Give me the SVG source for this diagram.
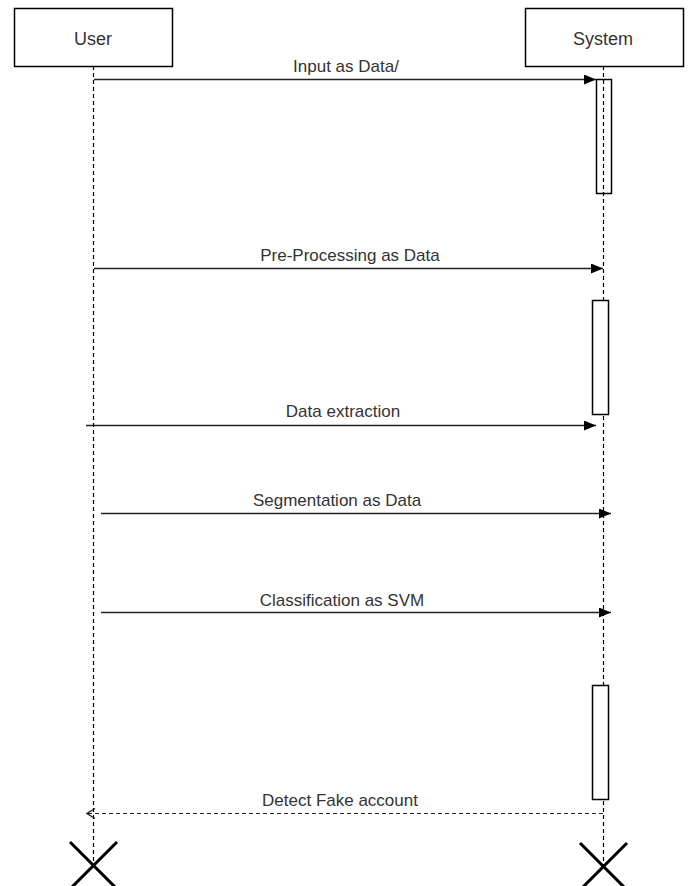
<svg xmlns="http://www.w3.org/2000/svg" width="690" height="886" viewBox="0 0 690 886">
  <style>
    .box { fill: #ffffff; stroke: #000000; stroke-width: 1.5; }
    .act { fill: #ffffff; stroke: #000000; stroke-width: 1.5; }
    .life { stroke: #000000; stroke-width: 1.2; stroke-dasharray: 4 3; fill: none; }
    .msg { stroke: #222222; stroke-width: 1.5; fill: none; }
    .ret { stroke: #222222; stroke-width: 1.2; stroke-dasharray: 4 3; fill: none; }
    .kill { stroke: #000000; stroke-width: 3; fill: none; }
    .lbl { font-family: "Liberation Sans", Arial, sans-serif; font-size: 17px; fill: #333333; text-anchor: middle; }
    .name { font-family: "Liberation Sans", Arial, sans-serif; font-size: 18px; fill: #333333; text-anchor: middle; }
  </style>
  <defs>
    <marker id="solidHead" viewBox="0 0 12 10" refX="12" refY="5" markerWidth="12" markerHeight="10" markerUnits="userSpaceOnUse" orient="auto">
      <path d="M0,0 L12,5 L0,10 Z" fill="#000000"/>
    </marker>
    <marker id="openHead" viewBox="0 0 10 12" refX="9" refY="6" markerWidth="10" markerHeight="12" markerUnits="userSpaceOnUse" orient="auto">
      <path d="M1,1 L9,6 L1,11" fill="none" stroke="#222222" stroke-width="1.3"/>
    </marker>
  </defs>
  <rect width="690" height="886" fill="#ffffff"/>

  <g id="lifelines">
    <line class="life" x1="93.5" y1="66" x2="93.5" y2="865"/>
    <line class="life" x1="603.5" y1="66" x2="603.5" y2="865"/>
  </g>

  <g id="user">
    <rect class="box" x="14.5" y="8.5" width="158" height="58"/>
    <text class="name" x="93" y="45">User</text>
  </g>

  <g id="system">
    <rect class="box" x="525.5" y="8.5" width="158" height="58"/>
    <text class="name" x="603" y="45">System</text>
  </g>

  <g id="activation1">
    <rect class="act" x="596.5" y="79.5" width="15" height="114" style="fill:none"/>
  </g>
  <g id="activation2">
    <rect class="act" x="592.5" y="300.5" width="16" height="114"/>
  </g>
  <g id="activation3">
    <rect class="act" x="592.5" y="685.5" width="16" height="114"/>
  </g>

  <g id="connectors">
    <line class="msg" x1="94" y1="79.5" x2="596" y2="79.5" marker-end="url(#solidHead)"/>
    <text class="lbl" x="346" y="72">Input as Data/</text>

    <line class="msg" x1="94" y1="268.5" x2="603" y2="268.5" marker-end="url(#solidHead)"/>
    <text class="lbl" x="350" y="261">Pre-Processing as Data</text>

    <line class="msg" x1="86" y1="425.5" x2="596" y2="425.5" marker-end="url(#solidHead)"/>
    <text class="lbl" x="343" y="417">Data extraction</text>

    <line class="msg" x1="101" y1="513.5" x2="611" y2="513.5" marker-end="url(#solidHead)"/>
    <text class="lbl" x="337" y="506">Segmentation as Data</text>

    <line class="msg" x1="101" y1="612.5" x2="611" y2="612.5" marker-end="url(#solidHead)"/>
    <text class="lbl" x="342" y="606">Classification as SVM</text>

    <line class="ret" x1="603" y1="813.5" x2="87" y2="813.5" marker-end="url(#openHead)"/>
    <text class="lbl" x="340" y="806">Detect Fake account</text>
  </g>

  <g id="userEnd">
    <path class="kill" d="M70,842 L117,889 M117,842 L70,889"/>
  </g>
  <g id="systemEnd">
    <path class="kill" d="M580,843 L627,890 M627,843 L580,890"/>
  </g>
</svg>
